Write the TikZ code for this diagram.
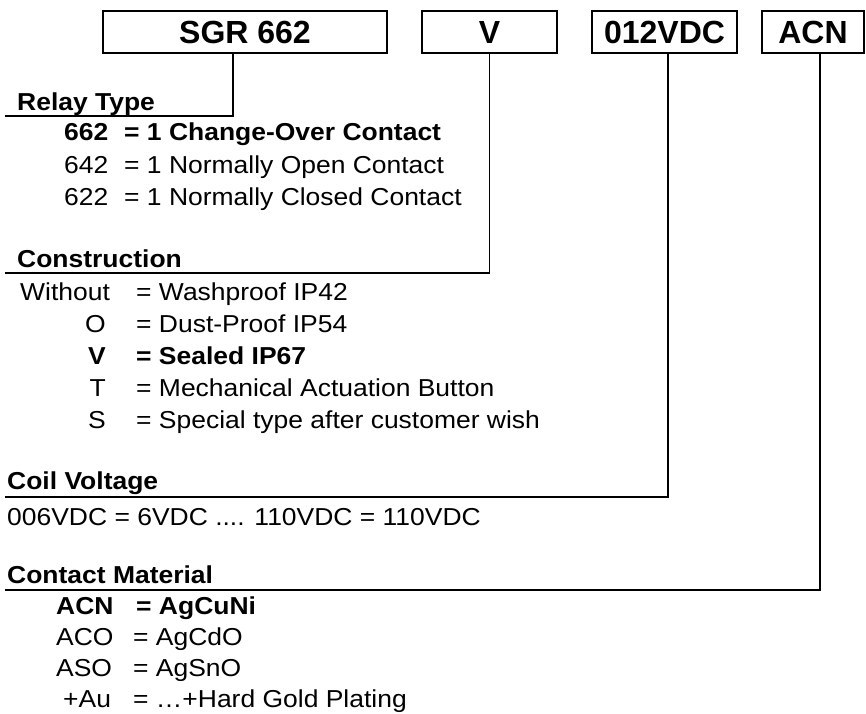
\documentclass[tikz,border=0pt]{standalone}
\usepackage{fontspec}
\setmainfont{Liberation Sans}[FakeStretch=1.08]
\newfontfamily\titlefam{Liberation Sans}
\usepackage{tikz}
\newcommand{\boxfont}{\titlefam\fontsize{32}{36}\selectfont\bfseries}
\newcommand{\hdrfont}{\fontsize{24.5}{28}\selectfont\bfseries}
\newcommand{\txtfont}{\fontsize{24.5}{29}\selectfont}
\tikzset{
  codebox/.style={draw, line width=2.8pt, font=\boxfont, inner sep=0pt},
  lead/.style={line width=1.6pt},
  hdr/.style={anchor=base west, inner sep=0pt, font=\hdrfont},
  txt/.style={anchor=base west, inner sep=0pt, font=\txtfont},
  rtxt/.style={anchor=base east, inner sep=0pt, font=\txtfont},
  boldtxt/.style={txt, font=\txtfont\bfseries},
  rboldtxt/.style={rtxt, font=\txtfont\bfseries}
}

\begin{document}
\begin{tikzpicture}[x=1pt, y=-1pt]
  \useasboundingbox (0,0) rectangle (866,713);
  % code boxes
  \node[codebox, minimum width=284pt, minimum height=42pt] (sgr) at (245,32) {SGR 662};
  \node[codebox, minimum width=135pt, minimum height=42pt] (cons) at (489.5,32) {V};
  \node[codebox, minimum width=145pt, minimum height=42pt] (coil) at (664.5,32) {012VDC};
  \node[codebox, minimum width=102pt, minimum height=42pt] (mat) at (813,32) {ACN};

  % relay type
  \node[hdr] (rt) at (17,110) {Relay Type};
  \coordinate (rtk) at (233,116);
  \coordinate (rte) at (5,116);
  \draw[lead] (rtk |- sgr.south) -- (rtk) -- (rte);
  \node[boldtxt] (r1c) at (64,140) {662};
  \node[boldtxt] (r1t) at (124,140) {= 1 Change-Over Contact};
  \node[txt] (r2c) at (64,173) {642};
  \node[txt] (r2t) at (124,173) {= 1 Normally Open Contact};
  \node[txt] (r3c) at (64,205) {622};
  \node[txt] (r3t) at (124,205) {= 1 Normally Closed Contact};

  % construction
  \node[hdr] (ct) at (17,267) {Construction};
  \coordinate (ctk) at (489.5,273);
  \coordinate (cte) at (5,273);
  \draw[lead] (ctk |- cons.south) -- (ctk) -- (cte);
  \node[txt] (c1c) at (20,300) {Without};
  \node[txt] (c1t) at (136,300) {= Washproof IP42};
  \node[rtxt] (c2c) at (106,332) {O};
  \node[txt] (c2t) at (136,332) {= Dust-Proof IP54};
  \node[rboldtxt] (c3c) at (106,364) {V};
  \node[boldtxt] (c3t) at (136,364) {= Sealed IP67};
  \node[rtxt] (c4c) at (106,396) {T};
  \node[txt] (c4t) at (136,396) {= Mechanical Actuation Button};
  \node[rtxt] (c5c) at (106,428) {S};
  \node[txt] (c5t) at (136,428) {= Special type after customer wish};

  % coil voltage
  \node[hdr] (cv) at (7,489) {Coil Voltage};
  \coordinate (cvk) at (668,497);
  \coordinate (cve) at (5,497);
  \draw[lead] (cvk |- coil.south) -- (cvk) -- (cve);
  \node[txt] (v1) at (7,525) {006VDC = 6VDC .... 110VDC = 110VDC};

  % contact material
  \node[hdr] (cm) at (7,583) {Contact Material};
  \coordinate (cmk) at (820,590);
  \coordinate (cme) at (5,590);
  \draw[lead] (cmk |- mat.south) -- (cmk) -- (cme);
  \node[boldtxt] (m1c) at (56,614) {ACN};
  \node[boldtxt] (m1t) at (136,614) {= AgCuNi};
  \node[txt] (m2c) at (56,645) {ACO};
  \node[txt] (m2t) at (133,645) {= AgCdO};
  \node[txt] (m3c) at (56,676) {ASO};
  \node[txt] (m3t) at (133,676) {= AgSnO};
  \node[txt] (m4c) at (63,707) {+Au};
  \node[txt] (m4t) at (133,707) {= …+Hard Gold Plating};
\end{tikzpicture}
\end{document}
